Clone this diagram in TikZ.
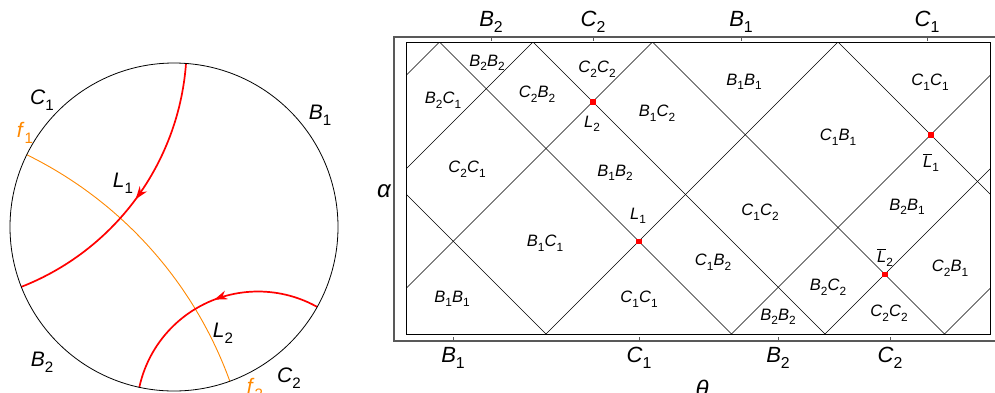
\documentclass[tikz,border=0pt]{standalone}
\usepackage{fontspec}
\setmainfont{Liberation Sans}
\usetikzlibrary{arrows.meta,decorations.markings}
\definecolor{mmaorange}{RGB}{255,136,0}
\newcommand\lab[2]{\textit{#1}\raisebox{-0.28em}{\scalebox{0.72}{#2}}}
\newcommand\barlab[1]{$\overline{\hbox{\textit{L}}}$\raisebox{-0.28em}{\scalebox{0.72}{#1}}}
\begin{document}
\begin{tikzpicture}[x=1pt,y=-1pt,
  axlab/.style={font=\fontsize{22}{22}\selectfont, inner sep=0pt},
  reglab/.style={font=\fontsize{16.5}{16.5}\selectfont, inner sep=0pt},
  circlab/.style={font=\fontsize{21}{21}\selectfont, inner sep=0pt},
  greeklab/.style={font=\fontsize{24}{24}\selectfont\itshape, inner sep=0pt},
  geo/.style={red, line width=1.7pt},
  fib/.style={mmaorange, line width=0.9pt},
  gridline/.style={line width=0.65pt, black},
  framebox/.style={line width=0.9pt, black},
  axisframe/.style={line width=1.1pt, black!65},
  midarrow/.style={postaction={decorate}, decoration={markings,
      mark=at position #1 with {\arrow{Stealth[length=13pt,width=9pt]}}}},
  reddot/.style={rectangle, fill=red, inner sep=0pt, minimum size=5.5pt}
]
\useasboundingbox (0,0) rectangle (995,392);

% ---------- left panel: disc ----------
\begin{scope}
  \clip (174,227) circle[radius=164];
  \draw[fib] (-151.9,519.2) ++(-65:405.9) arc[start angle=-65, end angle=-19, radius=405.9];
  \draw[geo, midarrow=0.5] (-73.7,44.4) ++(2:260.4) arc[start angle=2, end angle=71, radius=260.4];
  \draw[geo, midarrow=0.47] (258,412.9) ++(-58:121.4) arc[start angle=-58, end angle=-171, radius=121.4];
\end{scope}
\draw[line width=0.8pt] (174,227) circle[radius=164];

\node[circlab] (c1l) at (42,100) {\lab{C}{1}};
\node[circlab, text=mmaorange] (f1l) at (25,133) {\lab{f}{1}};
\node[circlab] (b1l) at (320,115) {\lab{B}{1}};
\node[circlab] (l1l) at (123,183) {\lab{L}{1}};
\node[circlab] (l2l) at (223,333) {\lab{L}{2}};
\node[circlab] (b2l) at (42,362) {\lab{B}{2}};
\node[circlab] (c2l) at (289,378) {\lab{C}{2}};
\node[circlab, text=mmaorange] (f2l) at (255,389) {\lab{f}{2}};

% ---------- right panel ----------
\draw[axisframe] (995,37) -- (394,37) -- (394,341) -- (995,341);
\foreach \t in {491,593,741,927} \draw[axisframe, line width=0.8pt] (\t,37) -- (\t,41);
\foreach \t in {453,639,778,890} \draw[axisframe, line width=0.8pt] (\t,341) -- (\t,337);

\begin{scope}
  \clip (406,42) rectangle (990,334);
  \foreach \c in {212,397.5,491,610.5,796}
    \draw[gridline] (\c+38,38) -- (\c+338,338);
  \foreach \c in {481.5,575,694.5,880,1065.5,1159,1278.5}
    \draw[gridline] (\c-38,38) -- (\c-338,338);
\end{scope}
\draw[framebox] (406,42) rectangle (990,334);

\node[reddot] (dL2) at (592.75,101.75) {};
\node[reddot] (dLb1) at (930.75,134.75) {};
\node[reddot] (dL1) at (638.75,241.25) {};
\node[reddot] (dLb2) at (884.75,274.25) {};

% axis labels
\node[axlab] (tB2) at (491,22) {\lab{B}{2}};
\node[axlab] (tC2) at (593,22) {\lab{C}{2}};
\node[axlab] (tB1) at (741,22) {\lab{B}{1}};
\node[axlab] (tC1) at (927,22) {\lab{C}{1}};
\node[axlab] (bB1) at (453,358) {\lab{B}{1}};
\node[axlab] (bC1) at (639,358) {\lab{C}{1}};
\node[axlab] (bB2) at (778,358) {\lab{B}{2}};
\node[axlab] (bC2) at (890,358) {\lab{C}{2}};
\node[greeklab] (alpha) at (384,191) {α};
\node[greeklab] (theta) at (702,389) {θ};

% region labels
\node[reglab] (r1) at (487,63) {\lab{B}{2}\lab{B}{2}};
\node[reglab] (r2) at (443,100) {\lab{B}{2}\lab{C}{1}};
\node[reglab] (r3) at (537,94) {\lab{C}{2}\lab{B}{2}};
\node[reglab] (r4) at (597,69) {\lab{C}{2}\lab{C}{2}};
\node[reglab] (r5) at (592,124) {\lab{L}{2}};
\node[reglab] (r6) at (657,113) {\lab{B}{1}\lab{C}{2}};
\node[reglab] (r7) at (467,169) {\lab{C}{2}\lab{C}{1}};
\node[reglab] (r8) at (615,173) {\lab{B}{1}\lab{B}{2}};
\node[reglab] (r9) at (744,82) {\lab{B}{1}\lab{B}{1}};
\node[reglab] (r10) at (930,82) {\lab{C}{1}\lab{C}{1}};
\node[reglab] (r11) at (838,137) {\lab{C}{1}\lab{B}{1}};
\node[reglab] (r12) at (931,163) {\barlab{1}};
\node[reglab] (r13) at (638,216) {\lab{L}{1}};
\node[reglab] (r14) at (545,243) {\lab{B}{1}\lab{C}{1}};
\node[reglab] (r15) at (452,299) {\lab{B}{1}\lab{B}{1}};
\node[reglab] (r16) at (639,299) {\lab{C}{1}\lab{C}{1}};
\node[reglab] (r17) at (760,212) {\lab{C}{1}\lab{C}{2}};
\node[reglab] (r18) at (907,207) {\lab{B}{2}\lab{B}{1}};
\node[reglab] (r19) at (713,262) {\lab{C}{1}\lab{B}{2}};
\node[reglab] (r20) at (885,258) {\barlab{2}};
\node[reglab] (r21) at (950,268) {\lab{C}{2}\lab{B}{1}};
\node[reglab] (r22) at (828,287) {\lab{B}{2}\lab{C}{2}};
\node[reglab] (r23) at (778,317) {\lab{B}{2}\lab{B}{2}};
\node[reglab] (r24) at (889,313) {\lab{C}{2}\lab{C}{2}};
\end{tikzpicture}
\end{document}
